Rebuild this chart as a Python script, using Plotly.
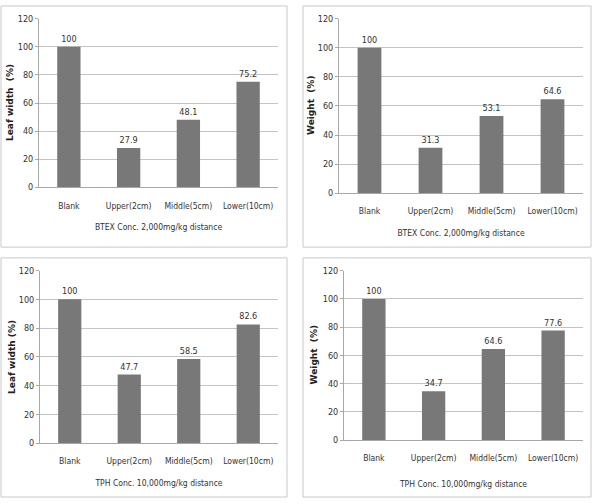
import plotly.graph_objects as go

categories = ["Blank", "Upper(2cm)", "Middle(5cm)", "Lower(10cm)"]
leaf_btex = [100, 27.9, 48.1, 75.2]
weight_btex = [100, 31.3, 53.1, 64.6]
leaf_tph = [100, 47.7, 58.5, 82.6]
weight_tph = [100, 34.7, 64.6, 77.6]
y_titles = ["Leaf width  (%)", "Weight  (%)", "Leaf width (%)", "Weight  (%)"]
x_titles = ["BTEX Conc. 2,000mg/kg distance", "BTEX Conc. 2,000mg/kg distance",
            "TPH Conc. 10,000mg/kg distance", "TPH Conc. 10,000mg/kg distance"]
y_ticks = [0, 20, 40, 60, 80, 100, 120]

series = [leaf_btex, weight_btex, leaf_tph, weight_tph]

W, H = 596, 504
# plot areas in pixels: (left, right, top, bottom)
areas = [(39, 278, 14, 186), (339, 583, 14, 192), (40, 278, 271, 447), (344, 583, 271, 444)]
frames = [(1, 287, 1, 247), (303, 591, 1, 247), (1, 287, 258, 502), (303, 591, 258, 502)]
ytitle_x = [10, 311, 12, 314]
standoffs = [14, 14, 14, 18]

FONT = "DejaVu Sans Condensed, Arial Narrow, sans-serif"
BAR = "#787878"
GRID = "#c4c4c4"

fig = go.Figure()
layout = dict(width=W, height=H, margin=dict(l=0, r=0, t=0, b=0),
              paper_bgcolor="white", plot_bgcolor="white", showlegend=False,
              bargap=0.61, font=dict(family=FONT, size=9, color="#333"))
annotations = []
shapes = []
for i, vals in enumerate(series):
    n = "" if i == 0 else str(i + 1)
    l, r, t, b = areas[i]
    fig.add_trace(go.Bar(x=categories, y=vals, marker_color=BAR, marker_line_width=0,
                         text=[f"{v:g}" for v in vals], textposition="outside",
                         textfont=dict(family=FONT, size=9, color="#333"),
                         cliponaxis=False, xaxis="x" + n, yaxis="y" + n,
                         width=0.39))
    layout["xaxis" + n] = dict(domain=[l / W, r / W], anchor="y" + n,
                               showline=True, linecolor="#a8a8a8", linewidth=1,
                               ticks="outside", ticklen=10, tickcolor="rgba(0,0,0,0)",
                               tickangle=0,
                               tickfont=dict(family=FONT, size=8.5, color="#333"),
                               title=dict(text=x_titles[i], standoff=standoffs[i],
                                          font=dict(family=FONT, size=8.5, color="#333")),
                               fixedrange=True)
    layout["yaxis" + n] = dict(domain=[1 - b / H, 1 - t / H], anchor="x" + n,
                               range=[0, 120], tickvals=y_ticks,
                               showgrid=True, gridcolor=GRID, gridwidth=1,
                               showline=True, linecolor="#a8a8a8", linewidth=1,
                               ticks="outside", ticklen=3, tickcolor="#a8a8a8",
                               tickfont=dict(family=FONT, size=9, color="#333"),
                               zeroline=False, fixedrange=True)
    annotations.append(dict(text="<b>" + y_titles[i] + "</b>", xref="paper", yref="paper",
                            x=ytitle_x[i] / W, y=1 - ((t + b) / 2) / H, textangle=-90,
                            showarrow=False, xanchor="center", yanchor="middle",
                            font=dict(family="DejaVu Sans, Arial, sans-serif", size=9, color="#222")))
    fl, fr, ft, fb = frames[i]
    shapes.append(dict(type="rect", xref="paper", yref="paper",
                       x0=fl / W, x1=fr / W, y0=1 - fb / H, y1=1 - ft / H,
                       line=dict(color="#c8c8c8", width=1), fillcolor="rgba(0,0,0,0)",
                       layer="below"))
layout["annotations"] = annotations
layout["shapes"] = shapes
fig.update_layout(**layout)
fig.write_html("out.html")
